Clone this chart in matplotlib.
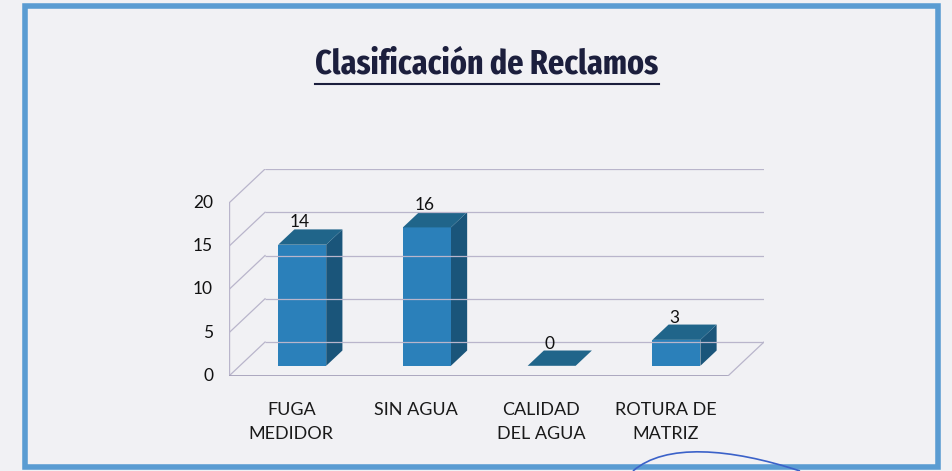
import matplotlib
matplotlib.use("Agg")
import matplotlib.pyplot as plt
from matplotlib.patches import Polygon, Rectangle, PathPatch
from matplotlib.path import Path
from matplotlib.lines import Line2D

categories = ["FUGA\nMEDIDOR", "SIN AGUA", "CALIDAD\nDEL AGUA", "ROTURA DE\nMATRIZ"]
values = [14, 16, 0, 3]
yticks = [0, 5, 10, 15, 20]
title = "Clasificación de Reclamos"

W, H = 952, 471
fig = plt.figure(figsize=(W / 100, H / 100), dpi=100)
fig.patch.set_facecolor("#f1f1f4")

# depth of the pseudo-3D box (data units)
DX, DY = 0.289, 3.93
F0, FD = 0.30, 0.45   # bar depth start / thickness as fraction of full depth
BW = 0.385            # bar width

def px(x, y):
    return (x / W, (H - y) / H)

left, right, bottom, top = 229, 764, 376, 169
ax = fig.add_axes([left / W, (H - bottom) / H, (right - left) / W, (bottom - top) / H])
ax.set_xlim(-0.5, 3.5 + DX)
ax.set_ylim(0, 20 + DY)
ax.axis("off")

grid_c = "#b9b5cb"
for v in yticks:
    ax.plot([-0.5 + DX, 3.5 + DX], [v + DY, v + DY], color=grid_c, lw=0.9, solid_capstyle="butt")
    ax.plot([-0.5, -0.5 + DX], [v, v + DY], color=grid_c, lw=0.9)
ax.plot([-0.5, -0.5], [0, 20], color=grid_c, lw=1.0)
ax.plot([-0.5, 3.5], [0, 0], color="#a09bb6", lw=1.2)
ax.plot([3.5, 3.5 + DX], [0, DY], color=grid_c, lw=0.9)

front_c, side_c, top_c = "#2b80ba", "#1a557a", "#20658a"
for i, v in enumerate(values):
    x0 = i - BW / 2 + F0 * DX
    y0 = F0 * DY
    ddx, ddy = FD * DX, FD * DY
    ax.add_patch(Polygon([(x0 + BW, y0), (x0 + BW + ddx, y0 + ddy),
                          (x0 + BW + ddx, y0 + ddy + v), (x0 + BW, y0 + v)],
                         closed=True, fc=side_c, ec="none", clip_on=False))
    if v > 0:
        ax.add_patch(Rectangle((x0, y0), BW, v, fc=front_c, ec="none", clip_on=False))
    ax.add_patch(Polygon([(x0, y0 + v), (x0 + BW, y0 + v),
                          (x0 + BW + ddx, y0 + ddy + v), (x0 + ddx, y0 + ddy + v)],
                         closed=True, fc=top_c, ec="none", clip_on=False))
    ax.annotate(str(v), xy=(x0 + BW / 2, y0 + ddy + v), xytext=(-2, -1),
                textcoords="offset pixels", ha="center", va="bottom",
                fontsize=12.5, family="Lato", color="#111111")

for v in yticks:
    ax.annotate(str(v), xy=(-0.5, v), xytext=(-16, 0), textcoords="offset pixels",
                ha="right", va="center", fontsize=12.5, family="Lato", color="#111111")

for i, c in enumerate(categories):
    ax.annotate(c, xy=(i, 0), xytext=(0, -26), textcoords="offset pixels",
                ha="center", va="top", fontsize=13, family="Lato", color="#1a1a1a",
                linespacing=1.65)

t = fig.text(px(487, 0)[0], px(0, 64)[1], title, ha="center", va="center",
             fontsize=25, fontweight="bold",
             family=["Fira Sans Extra Condensed", "DejaVu Sans"], color="#1c1f3d")
fig.canvas.draw()
bb = t.get_window_extent()
fig.add_artist(Line2D([bb.x0 / W, bb.x1 / W], [(bb.y0 - 3) / H] * 2, color="#1c1f3d", lw=1.5))

fig.add_artist(Rectangle(px(25, 467), (938 - 25) / W, (467 - 6) / H, transform=fig.transFigure,
                         fill=False, ec="#5a9cd2", lw=4))
verts = [px(633, 471), px(665, 443), px(730, 448), px(800, 471)]
fig.add_artist(PathPatch(Path(verts, [Path.MOVETO, Path.CURVE4, Path.CURVE4, Path.CURVE4]),
                         transform=fig.transFigure, fill=False, ec="#3b62c9", lw=1.2))

fig.savefig("out.png", dpi=100, facecolor=fig.get_facecolor())
